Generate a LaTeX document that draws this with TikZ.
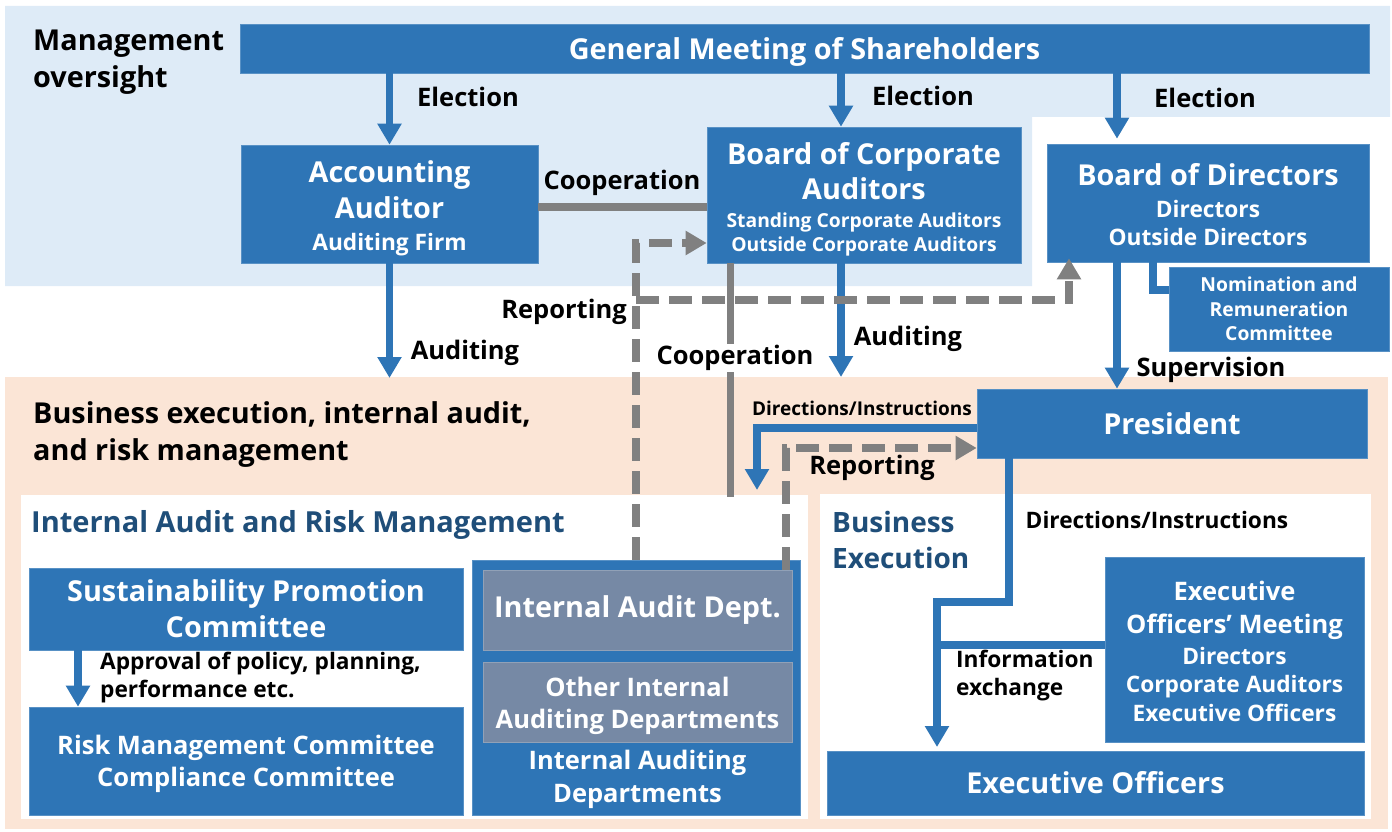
\documentclass[tikz,border=0pt]{standalone}
\usepackage{fontspec}
\setmainfont{Open Sans}
\usetikzlibrary{arrows.meta}

\definecolor{boxblue}{RGB}{46,117,182}
\definecolor{boxgray}{RGB}{118,137,165}
\definecolor{bgblue}{RGB}{222,235,247}
\definecolor{bgpeach}{RGB}{251,229,214}
\definecolor{linegray}{RGB}{128,128,128}
\definecolor{titleblue}{RGB}{31,78,121}

% font size with an explicit line pitch
\newcommand\fs[2]{\fontsize{#1}{#2}\selectfont}
\newcommand\fbig{\fontsize{28.8}{36}\selectfont}
\newcommand\fmid{\fontsize{25.5}{32}\selectfont}
\newcommand\fsub{\fontsize{22.7}{28}\selectfont}
\newcommand\fsmall{\fontsize{19.3}{24}\selectfont}

\tikzset{
  box/.style={fill=boxblue, draw=boxblue!80!white, line width=0.6pt, text=white,
    align=center, inner sep=0pt},
  graybox/.style={box, fill=boxgray, draw=boxgray!80!white},
  boxtext/.style={text=white, align=center, inner sep=0pt},
  lbl/.style={font=\bfseries\fmid, text=black, inner sep=0pt},
  heading/.style={font=\bfseries\fs{28.8}{37}, text=black, inner sep=0pt, align=left},
  panelhead/.style={text=titleblue, inner sep=0pt, align=left},
  barrow/.style={draw=boxblue, line width=7.5pt, -{Triangle[width=23pt,length=21pt]}},
  bline/.style={draw=boxblue, line width=7.5pt},
  gline/.style={draw=linegray, line width=7.5pt},
  gdash/.style={gline, dash pattern=on 23pt off 10pt},
  gdarrow/.style={gdash, -{Triangle[width=23pt,length=21pt]}},
}

\begin{document}
\begin{tikzpicture}[x=1pt,y=-1pt]
\useasboundingbox (0,0) rectangle (1392,832);

% background areas
\fill[bgblue] (5,6) -- (1390,6) -- (1390,117) -- (1032,117) -- (1032,286) -- (5,286) -- cycle;
\fill[bgpeach] (5,377) rectangle (1388,829);
\fill[white] (21,495) rectangle (808,819);
\fill[white] (820,494) rectangle (1371,819);

% section headings
\node[heading, anchor=west] (hmo) at (33,62.5) {Management\\oversight};
\node[heading, anchor=west] (hbe) at (33,434.5) {Business execution, internal audit,\\and risk management};
\node[panelhead, font=\bfseries\fs{29}{37}, anchor=west] (hia) at (31,525) {Internal Audit and Risk Management};
\node[panelhead, font=\bfseries\fs{28}{36}, anchor=west] (hbx) at (832,540) {Business\\Execution};

% boxes
\node[box, minimum width=1129, minimum height=49] (gm) at (804.5,48.5) {};
\node[boxtext, font=\bfseries\fbig] (gmt) at ([yshift=-3]gm.center)
  {General Meeting of Shareholders};

\node[box, minimum width=297, minimum height=118] (acc) at (389.5,204) {};
\node[boxtext, font=\bfseries\fbig] (acct) at ([yshift=-4]acc.center)
  {Accounting\\Auditor\\[-4pt]\fsub Auditing Firm};

\node[box, minimum width=314, minimum height=136] (bca) at (864,195) {};
\node[boxtext, font=\bfseries\fs{28.8}{24}] (bcat) at ([yshift=-4.5]bca.center)
  {Board of Corporate\\[5pt]Auditors\\[4pt]\fsmall Standing Corporate Auditors\\\fsmall Outside Corporate Auditors};

\node[box, minimum width=322, minimum height=118] (bod) at (1208,203) {};
\node[boxtext, font=\bfseries\fs{28.8}{28}] (bodt) at ([yshift=-2]bod.center)
  {Board of Directors\\[4pt]\fsub Directors\\\fsub Outside Directors};

\node[box, font=\bfseries\fs{19.3}{24.5}, minimum width=220, minimum height=84] (nom) at (1279,309)
  {Nomination and\\Remuneration\\Committee};

\node[box, font=\bfseries\fbig, minimum width=390, minimum height=69] (pres) at (1172,423.5)
  {President};

\node[box, font=\bfseries\fbig, minimum width=434, minimum height=82] (spc) at (246,609)
  {Sustainability Promotion\\Committee};

\node[box, minimum width=434, minimum height=108] (rmc) at (246,761) {};
\node[boxtext, font=\bfseries\fmid] (rmct) at ([yshift=-3]rmc.center)
  {Risk Management Committee\\Compliance Committee};

\node[box, minimum width=328, minimum height=255] (iad) at (636,687.5) {};
\node[graybox, font=\bfseries\fbig, minimum width=309, minimum height=80] (iadept) at (637.5,610)
  {Internal Audit Dept.};
\node[graybox, minimum width=309, minimum height=80] (oiad) at (637.5,702) {};
\node[boxtext, font=\bfseries\fmid] (oiadt) at ([yshift=-4]oiad.center)
  {Other Internal\\Auditing Departments};
\node[boxtext, font=\bfseries\fs{25.5}{33}] (iadt) at (637.5,779)
  {Internal Auditing\\Departments};

\node[box, minimum width=259, minimum height=185] (eom) at (1234.5,649.5) {};
\node[boxtext, font=\bfseries\fs{25.5}{28.5}] (eomt) at ([yshift=-1.5]eom.center)
  {Executive\\[4.5pt]Officers’ Meeting\\[2.5pt]\fsub Directors\\\fsub Corporate Auditors\\\fsub Executive Officers};

\node[box, font=\bfseries\fbig, minimum width=537, minimum height=64] (eo) at (1095.5,783)
  {Executive Officers};

% connector end points
\coordinate (e2) at ([xshift=-23]bca.north);
\coordinate (e3) at ([xshift=-91]bod.north);
\coordinate (aud1) at (acc.south |- 0,378);
\coordinate (aud2) at ([xshift=-23]bca.south);
\coordinate (aud2end) at (aud2 |- 0,377);
\coordinate (coop) at ([xshift=24]bca.south west);
\coordinate (coopend) at (coop |- 0,497);
\coordinate (rep1) at (iad.north);
\coordinate (rep1top) at (rep1 |- 0,243);
\coordinate (rep1mid) at (rep1 |- 0,300);
\coordinate (rep2) at ([xshift=-139]bod.south);
\coordinate (nomknee) at ([xshift=-55]bod.south);
\coordinate (dirend) at (757,490);
\coordinate (rep3) at ([xshift=148.5]iadept.north);
\coordinate (prdown) at ([xshift=-163]pres.south);
\coordinate (eoin) at (937,747);

% election
\draw[barrow] (gm.south -| acc.north) -- (acc.north);
\draw[barrow] (gm.south -| e2) -- (e2);
\draw[barrow] (gm.south -| e3) -- ([yshift=5]e3);
\node[lbl] (l1) at (468,97) {Election};
\node[lbl] (l2) at (923,96) {Election};
\node[lbl] (l3) at (1205,98) {Election};

% cooperation between auditors
\draw[gline] ([yshift=-3]acc.east) -- ([yshift=-3]acc.east -| bca.west);
\node[lbl] (l4) at (622,183) {Cooperation};
\draw[gline] (coop) -- (coopend);
\node[lbl, fill=white, inner sep=1pt] (l5) at (735,358) {Cooperation};

% auditing
\draw[barrow] (acc.south) -- (aud1);
\node[lbl] (l6) at (465,353) {Auditing};
\draw[barrow] (aud2) -- (aud2end);
\node[lbl] (l7) at (908,339) {Auditing};

% reporting from internal audit dept.
\draw[gdarrow] (rep1) -- (rep1top) -- (rep1top -| bca.west);
\draw[gdarrow] (rep1mid) -- (rep1mid -| rep2) -- ([yshift=4]rep2);
\node[lbl] (l8) at (564,312) {Reporting};

% board of directors
\draw[bline] (nomknee) |- (nom.west |- 0,290);
\draw[barrow] (bod.south -| e3) -- (pres.north -| e3);
\node[lbl] (l9) at (1211,370) {Supervision};

% president
\draw[barrow] (pres.west |- 0,428) -| (dirend);
\node[lbl, font=\bfseries\fs{19}{24}] (l10) at (862,408) {Directions/Instructions};
\draw[gdarrow] (rep3) |- (pres.west |- 0,448);
\node[lbl] (l11) at (872,468) {Reporting};
\draw[barrow] (prdown) |- (937,602) -- (eoin);
\draw[bline] (eom.west |- 0,645) -- (937,645);
\node[lbl, font=\bfseries\fsub] (l12) at (1157,520) {Directions/Instructions};
\node[lbl, font=\bfseries\fsub, anchor=west, align=left] (l13) at (956,676) {Information\\exchange};

% sustainability committee
\draw[barrow] ([xshift=-168]spc.south) -- ([xshift=-168]rmc.north);
\node[lbl, font=\bfseries\fsub, anchor=west, align=left] (l14) at (100,678) {Approval of policy, planning,\\performance etc.};

\end{tikzpicture}
\end{document}
